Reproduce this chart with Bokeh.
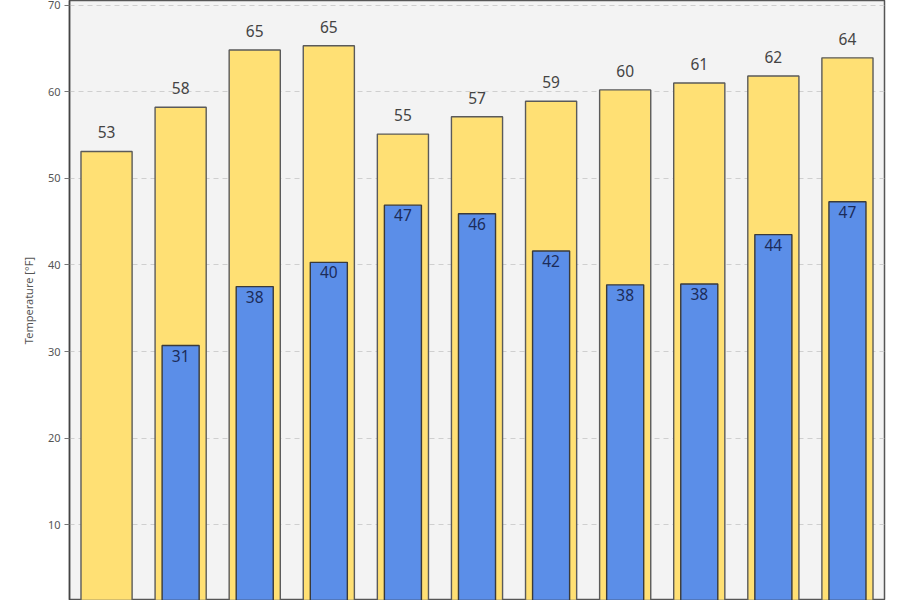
from bokeh.plotting import figure
from bokeh.models import ColumnDataSource, Range1d
from bokeh.embed import file_html
from bokeh.resources import INLINE
from bokeh.core.properties import value

# --- data ---
categories = ["1", "2", "3", "4", "5", "6", "7", "8", "9", "10", "11"]
high_values = [53.1, 58.2, 64.8, 65.3, 55.1, 57.1, 58.9, 60.2, 61.0, 61.8, 63.9]
low_values = [None, 30.7, 37.5, 40.3, 46.9, 45.9, 41.6, 37.7, 37.8, 43.5, 47.3]
y_ticks = [10, 20, 30, 40, 50, 60, 70]

xs = list(range(len(categories)))
high_src = ColumnDataSource(dict(
    x=xs, top=high_values,
    label=[str(round(v)) for v in high_values],
))
lx = [x for x, v in zip(xs, low_values) if v is not None]
lv = [v for v in low_values if v is not None]
low_src = ColumnDataSource(dict(x=lx, top=lv, label=[str(round(v)) for v in lv]))

p = figure(width=900, height=600, output_backend="svg", toolbar_location=None,
           x_range=Range1d(-0.5, 10.5), y_range=Range1d(1.27, 70.52),
           min_border_left=69, min_border_right=16, min_border_top=0,
           min_border_bottom=0, background_fill_color="#f3f3f3",
           border_fill_color="white")

p.vbar(x="x", top="top", bottom=0, width=0.69, source=high_src,
       fill_color="#ffe074", line_color="#5a5a5a", line_width=1.4)
p.vbar(x="x", top="top", bottom=0, width=0.5, source=low_src,
       fill_color="#5b8ee8", line_color="#3a3a3a", line_width=1.4)

p.text(x="x", y="top", text="label", source=high_src, text_align="center",
       text_baseline="bottom", y_offset=-13, text_font=value("Noto Sans"),
       text_font_size="15.5px", text_color="#444444")
p.text(x="x", y="top", text="label", source=low_src, text_align="center",
       text_baseline="top", y_offset=4, text_font=value("Noto Sans"),
       text_font_size="15.5px", text_color="#1c2c5a")

p.xaxis.visible = False
p.xgrid.visible = False
p.ygrid.grid_line_color = "#cfcfcf"
p.ygrid.grid_line_dash = "5 4"
p.ygrid.grid_line_width = 1
p.ygrid.ticker = y_ticks

yax = p.yaxis[0]
yax.ticker = y_ticks
yax.axis_label = "Temperature [°F]"
yax.axis_label_text_font = "Noto Sans"
yax.axis_label_text_font_style = "normal"
yax.axis_label_text_font_size = "11px"
yax.axis_label_text_color = "#555555"
yax.axis_label_standoff = 9
yax.major_label_text_font = "Noto Sans"
yax.major_label_text_font_size = "11px"
yax.major_label_text_color = "#555555"
yax.major_label_standoff = 4
yax.axis_line_color = "#444444"
yax.axis_line_width = 1.5
yax.major_tick_line_color = "#777777"
yax.major_tick_out = 5
yax.major_tick_in = 0
yax.minor_tick_line_color = None

p.outline_line_color = "#555555"
p.outline_line_width = 1.5

open("out.html", "w").write(file_html(p, INLINE))
